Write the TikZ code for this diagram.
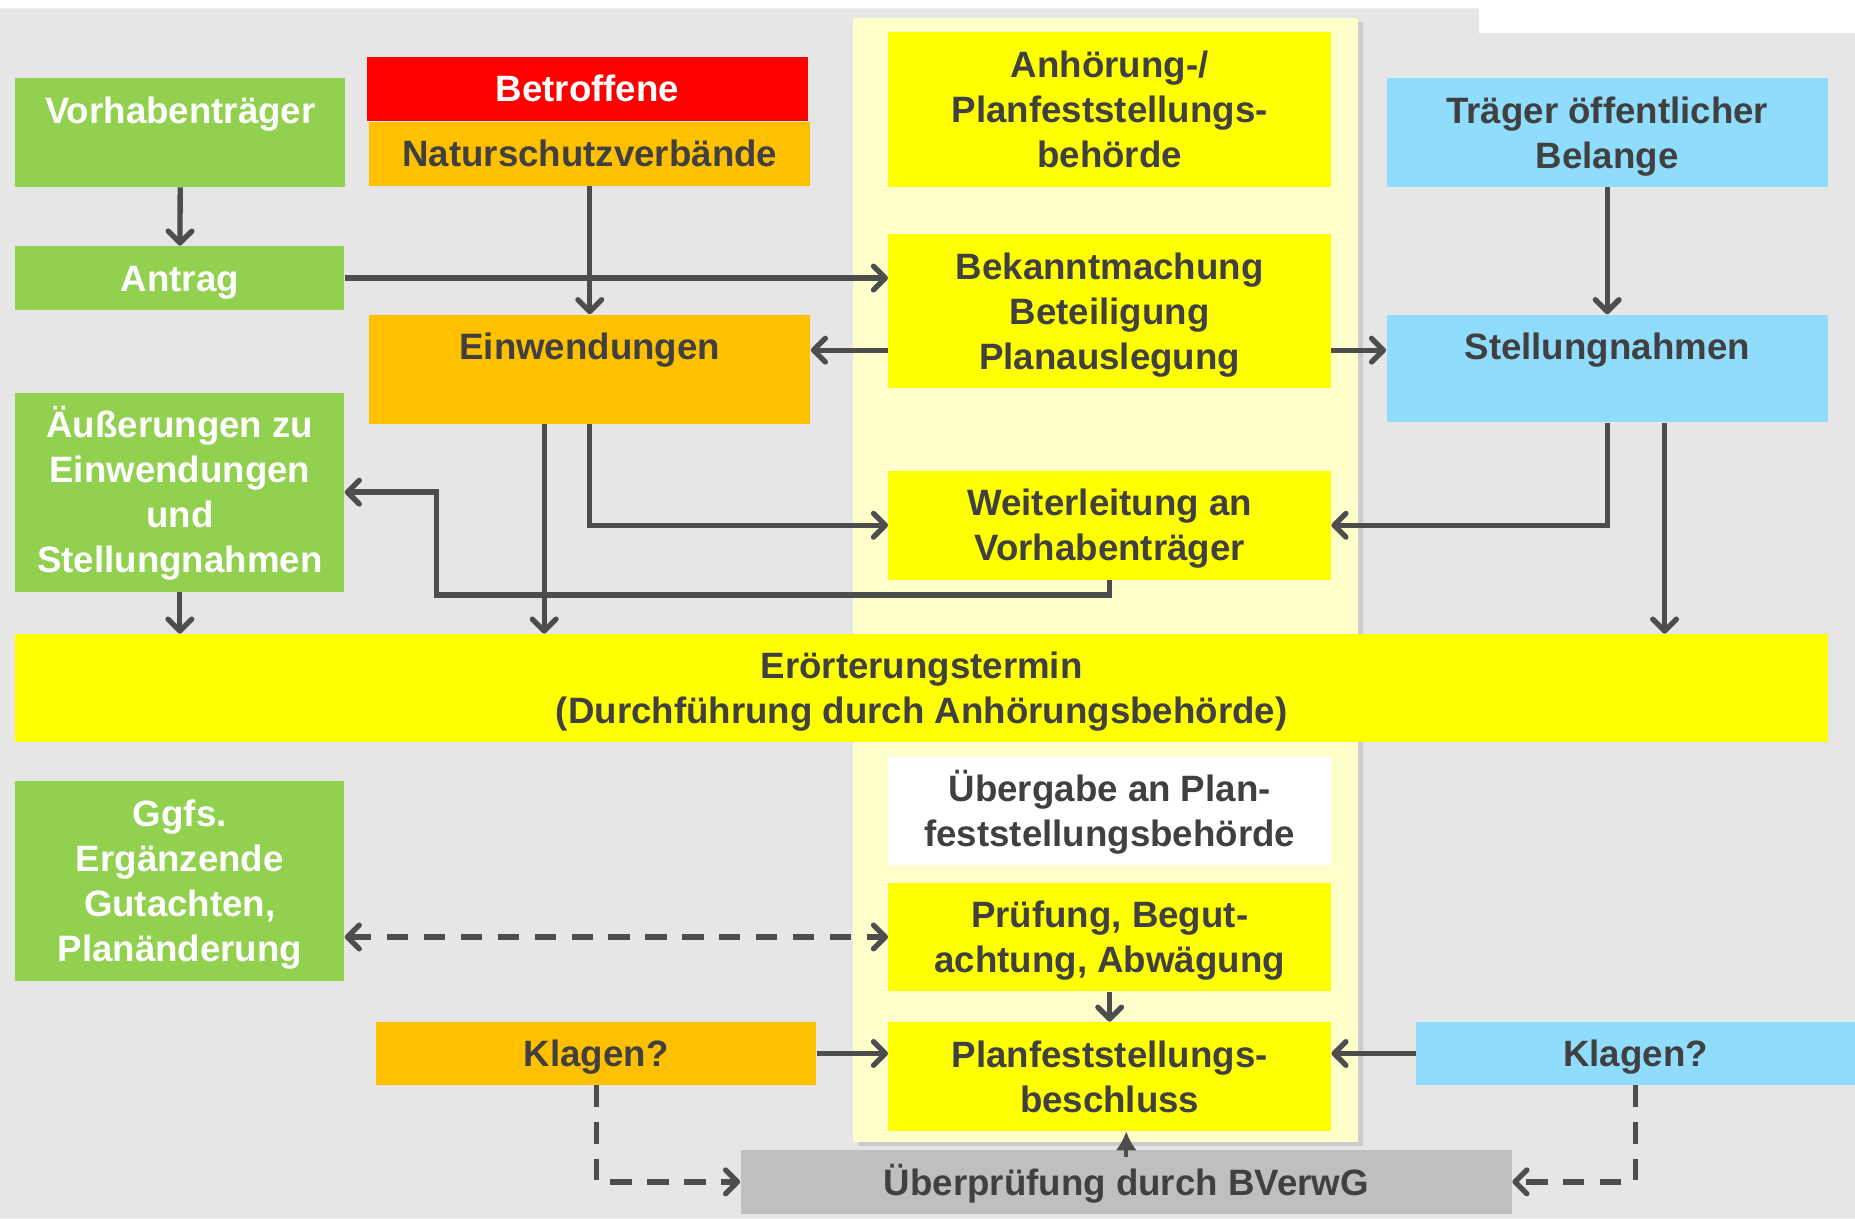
\documentclass[tikz,border=0pt]{standalone}
\usepackage{fontspec}
\setmainfont{Liberation Sans}
\usetikzlibrary{arrows.meta}
\usetikzlibrary{shadows}
\definecolor{gruen}{HTML}{92D050}
\definecolor{rot}{HTML}{FF0000}
\definecolor{orange}{HTML}{FFC000}
\definecolor{gelb}{HTML}{FFFF00}
\definecolor{hellgelb}{HTML}{FFFFCC}
\definecolor{blau}{HTML}{8FDCFC}
\definecolor{hgrau}{HTML}{E6E6E6}
\definecolor{kgrau}{HTML}{BFBFBF}
\definecolor{txtgrau}{HTML}{404040}
\definecolor{liniengrau}{HTML}{4D4D4D}

\begin{document}
\begin{tikzpicture}[x=0.5pt,y=-0.5pt]
        \tikzset{box/.style = {shape=rectangle,inner sep=0pt,align=center,text=txtgrau,font=\fontsize{15.5}{19}\selectfont\bfseries,text depth=0pt,text height=11.1pt}}
        \tikzset{zwei/.style = {text height=30.1pt}}
        \tikzset{drei/.style = {text height=49.1pt}}
        \tikzset{vier/.style = {text height=68.1pt}}
        \tikzset{edge/.style = {draw=liniengrau,line width=2.25pt,-{Straight Barb[length=5pt,width=10pt,round]}}}
        \tikzset{dashedge/.style = {edge,dash pattern=on 9pt off 6.6pt}}
        \useasboundingbox (0,0) rectangle (1568,1030);
        \fill[hgrau] (0,7) -- (1250,7) -- (1250,28) -- (1568,28) -- (1568,1030) -- (0,1030) -- cycle;
        \fill[hellgelb,drop shadow={opacity=0.25,shadow xshift=2pt,shadow yshift=-2pt}] (721,15) rectangle (1148,965);

        \node[box,zwei,fill=gruen,text=white,minimum width=139.5pt,minimum height=46pt] (vorhaben) at (152.5,112) {Vorhabenträger\\~};
        \node[box,fill=gruen,text=white,minimum width=139pt,minimum height=27pt] (antrag) at (152,235) {Antrag};
        \node[box,fill=rot,text=white,minimum width=186.5pt,minimum height=27pt] (betroffene) at (496.5,75) {Betroffene};
        \node[box,fill=orange,minimum width=186.5pt,minimum height=27pt] (naturschutz) at (498.5,130) {Naturschutzverbände};
        \node[box,drei,fill=gelb,minimum width=187pt,minimum height=65.5pt] (behoerde) at (938,92.5) {Anhörung-/\\Planfeststellungs-\\behörde};
        \node[box,zwei,fill=blau,minimum width=186.5pt,minimum height=46pt] (traeger) at (1358.5,112) {Träger öffentlicher\\Belange};
        \node[box,drei,fill=gelb,minimum width=187pt,minimum height=65pt] (bekannt) at (938,263) {Bekanntmachung\\Beteiligung\\Planauslegung};
        \node[box,zwei,fill=orange,minimum width=186.5pt,minimum height=46pt] (einwend) at (498.5,312) {Einwendungen\\~};
        \node[box,zwei,fill=blau,minimum width=186.5pt,minimum height=45.5pt] (stellung) at (1358.5,311.5) {Stellungnahmen\\~};
        \node[box,vier,fill=gruen,text=white,minimum width=139pt,minimum height=84pt] (aeusserung) at (152,416) {Äußerungen zu\\Einwendungen\\und\\Stellungnahmen};
        \node[box,zwei,fill=gelb,minimum width=187pt,minimum height=46pt] (weiter) at (938,444) {Weiterleitung an\\Vorhabenträger};
        \node[box,zwei,fill=gelb,minimum width=766pt,minimum height=45.5pt] (eroerterung) at (779,581.5) {Erörterungstermin\\(Durchführung durch Anhörungsbehörde)};
        \node[box,zwei,fill=white,minimum width=187pt,minimum height=45.5pt] (uebergabe) at (938,685.5) {Übergabe an Plan-\\feststellungsbehörde};
        \node[box,zwei,fill=gelb,minimum width=187pt,minimum height=46pt] (pruefung) at (938,792) {Prüfung, Begut-\\achtung, Abwägung};
        \node[box,vier,fill=gruen,text=white,minimum width=139pt,minimum height=84.5pt] (ggfs) at (152,744.5) {Ggfs.\\Ergänzende\\Gutachten,\\Planänderung};
        \node[box,fill=orange,minimum width=186pt,minimum height=26.5pt] (klagenL) at (504,890.5) {Klagen?};
        \node[box,zwei,fill=gelb,minimum width=187pt,minimum height=46pt] (beschluss) at (938,910) {Planfeststellungs-\\beschluss};
        \node[box,fill=blau,minimum width=185.5pt,minimum height=26.5pt] (klagenR) at (1382.5,890.5) {Klagen?};
        \node[box,fill=kgrau,minimum width=326pt,minimum height=27pt] (bverwg) at (952,999) {Überprüfung durch BVerwG};

        \draw[edge] (vorhaben) -- (antrag);
        \draw[edge] (antrag) -- (antrag -| bekannt.west);
        \draw[edge] (naturschutz) -- (einwend);
        \draw[edge] (bekannt.west |- 0,296) -- (einwend.east |- 0,296);
        \draw[edge] (bekannt.east |- 0,296) -- (stellung.west |- 0,296);
        \draw[edge] (traeger) -- (stellung);
        \draw[edge] (einwend.south) |- (weiter.west);
        \draw[edge] (stellung.south) |- (weiter.east);
        \draw[edge] (weiter.south) |- (369,503) |- (aeusserung.east);
        \draw[edge] (einwend.south -| 460,0) -- (eroerterung.north -| 460,0);
        \draw[edge] (stellung.south -| 1407,0) -- (eroerterung.north -| 1407,0);
        \draw[edge] (aeusserung) -- (aeusserung.south |- eroerterung.north);
        \draw[edge] (pruefung) -- (beschluss);
        \draw[edge] (klagenL) -- (klagenL -| beschluss.west);
        \draw[edge] (klagenR) -- (klagenR -| beschluss.east);
        \draw[dashedge,{Straight Barb[length=5pt,width=10pt,round]}-{Straight Barb[length=5pt,width=10pt,round]}] (ggfs.east |- pruefung) -- (pruefung);
        \draw[dashedge] (klagenL) |- (bverwg);
        \draw[dashedge] (klagenR) |- (bverwg);
        \draw[draw=liniengrau,fill=liniengrau,line width=1.5pt,-{Latex[length=8pt,width=9pt]}] ([yshift=-3pt]bverwg.north) -- (bverwg.north |- beschluss.south);
\end{tikzpicture}
\end{document}
